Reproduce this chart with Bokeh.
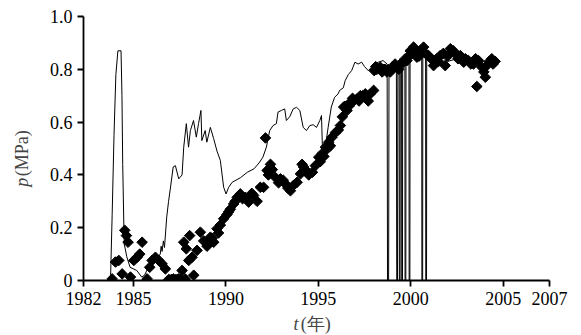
import math
from bokeh.plotting import figure
from bokeh.models import Range1d, FixedTicker, Label
from bokeh.embed import file_html
from bokeh.resources import INLINE

# ---- data ----
line_t = [1983.76, 1983.85, 1983.95, 1984.05, 1984.16, 1984.33, 1984.38, 1984.42, 1984.50, 1984.64,
          1984.82, 1985.18, 1985.45, 1985.60, 1985.90, 1986.20, 1986.45, 1986.50, 1986.55, 1986.62,
          1986.68, 1986.80, 1986.90, 1987.00, 1987.15, 1987.27, 1987.45, 1987.63, 1987.72, 1987.86,
          1987.98, 1988.08, 1988.25, 1988.40, 1988.52, 1988.65, 1988.70, 1988.88, 1988.97, 1989.16,
          1989.34, 1989.52, 1989.70, 1989.88, 1990.01, 1990.15, 1990.34, 1990.80, 1991.16, 1991.52,
          1991.79, 1992.00, 1992.19, 1992.37, 1992.55, 1992.73, 1992.82, 1993.00, 1993.18, 1993.27,
          1993.45, 1993.64, 1993.82, 1994.00, 1994.18, 1994.36, 1994.54, 1994.72, 1994.90, 1995.08,
          1995.17, 1995.22, 1995.35, 1995.53, 1995.70, 1995.88, 1996.07, 1996.15, 1996.35, 1996.45,
          1996.62, 1996.80, 1996.98, 1997.15, 1997.34, 1997.50, 1997.70, 1997.88, 1998.05, 1998.24,
          1998.50, 1998.72, 1998.74, 1998.80, 1998.82, 1999.00, 1999.22, 1999.24, 1999.28, 1999.30,
          1999.37, 1999.38, 1999.42, 1999.43, 1999.50, 1999.51, 1999.55, 1999.56, 1999.68, 1999.69,
          1999.73, 1999.74, 1999.90, 1999.91, 1999.95, 1999.96, 2000.20, 2000.40, 2000.59, 2000.60,
          2000.64, 2000.65, 2000.80, 2000.81, 2000.85, 2000.86, 2001.20, 2001.60, 2002.00, 2002.50,
          2003.00, 2003.50, 2004.00, 2004.40, 2004.70]
line_p = [0.0, 0.25, 0.55, 0.78, 0.87, 0.87, 0.70, 0.44, 0.14, 0.09,
          0.05, 0.038, 0.013, 0.02, 0.064, 0.08, 0.10, 0.13, 0.11, 0.15,
          0.125, 0.24, 0.30, 0.35, 0.43, 0.435, 0.385, 0.40, 0.505, 0.594,
          0.505, 0.568, 0.606, 0.543, 0.594, 0.644, 0.53, 0.568, 0.524, 0.58,
          0.537, 0.49, 0.455, 0.353, 0.328, 0.353, 0.372, 0.39, 0.41, 0.423,
          0.445, 0.467, 0.505, 0.568, 0.587, 0.594, 0.638, 0.644, 0.65, 0.606,
          0.62, 0.65, 0.656, 0.644, 0.58, 0.568, 0.587, 0.59, 0.58, 0.606,
          0.625, 0.505, 0.492, 0.58, 0.657, 0.694, 0.707, 0.72, 0.73, 0.757,
          0.78, 0.795, 0.827, 0.82, 0.827, 0.81, 0.795, 0.808, 0.82, 0.827,
          0.833, 0.82, 0.0, 0.0, 0.81, 0.83, 0.82, 0.0, 0.0, 0.82,
          0.82, 0.0, 0.0, 0.83, 0.84, 0.0, 0.0, 0.84, 0.84, 0.0,
          0.0, 0.84, 0.85, 0.0, 0.0, 0.85, 0.86, 0.85, 0.85, 0.0,
          0.0, 0.85, 0.84, 0.0, 0.0, 0.84, 0.84, 0.85, 0.83, 0.84,
          0.83, 0.82, 0.83, 0.81, 0.82]

pt_t = [1983.85, 1984.03, 1984.21, 1984.39, 1984.53, 1984.62, 1984.71, 1984.84, 1985.02, 1985.20,
        1985.34, 1985.47, 1985.74, 1985.88, 1986.01, 1986.19, 1986.37, 1986.55, 1986.73, 1986.91,
        1987.05, 1987.16, 1987.30, 1987.43, 1987.55, 1987.63, 1987.72, 1987.80, 1987.86, 1987.99,
        1988.04, 1988.17, 1988.26, 1988.44, 1988.62, 1988.80, 1988.98, 1989.16, 1989.34, 1989.52,
        1989.70, 1989.88, 1990.06, 1990.24, 1990.42, 1990.61, 1990.78, 1991.05, 1991.23, 1991.50,
        1991.69, 1991.86, 1992.04, 1992.14, 1992.23, 1992.41, 1992.51, 1992.68, 1992.95, 1993.22,
        1993.49, 1993.65, 1993.85, 1994.03, 1994.12, 1994.30, 1994.48, 1994.68, 1994.84, 1995.02,
        1995.20, 1995.38, 1995.56, 1995.74, 1995.92, 1996.08, 1996.19, 1996.37, 1996.55, 1996.73,
        1996.91, 1997.09, 1997.27, 1997.54, 1997.70, 1997.81, 1997.99, 1998.02, 1998.17, 1998.35,
        1998.53, 1998.71, 1998.89, 1999.07, 1999.25, 1999.43, 1999.61, 1999.79, 1999.97, 2000.15,
        2000.33, 2000.51, 2000.69, 2000.96, 2001.23, 2001.40, 2001.59, 2001.86, 2002.14, 2002.41,
        2002.68, 2002.86, 2003.12, 2003.39, 2003.57, 2003.66, 2003.84, 2004.03, 2004.11, 2004.38,
        2004.56,
        # extra points filling the dense bands
        1989.0, 1989.25, 1989.6, 1990.15, 1990.5, 1990.9, 1991.4, 1992.3, 1992.85, 1993.1,
        1993.35, 1994.2, 1994.4, 1995.1, 1995.3, 1995.5, 1995.65, 1996.3, 1996.45, 1996.65,
        1996.85, 1997.2, 1997.4, 1998.1, 1998.45, 1998.6, 1998.8, 1999.15, 1999.35, 1999.7,
        1999.9, 2000.05, 2000.25, 2000.45, 2000.8, 2001.1, 2001.5, 2001.75, 2002.0, 2002.3,
        2002.55, 2002.95, 2003.25, 2003.5, 2003.95, 2004.25, 2004.45]
pt_p = [0.006, 0.07, 0.076, 0.025, 0.19, 0.17, 0.145, 0.013, 0.076, 0.088,
        0.10, 0.145, 0.006, 0.05, 0.076, 0.088, 0.076, 0.063, 0.044, 0.004,
        0.004, 0.006, 0.004, 0.006, 0.004, 0.038, 0.145, 0.006, 0.12, 0.076,
        0.17, 0.088, 0.02, 0.114, 0.183, 0.15, 0.13, 0.164, 0.145, 0.196,
        0.21, 0.234, 0.25, 0.27, 0.29, 0.315, 0.328, 0.315, 0.297, 0.322,
        0.30, 0.353, 0.353, 0.54, 0.417, 0.44, 0.42, 0.39, 0.385, 0.366,
        0.34, 0.36, 0.372, 0.404, 0.44, 0.42, 0.40, 0.41, 0.435, 0.467,
        0.48, 0.505, 0.524, 0.543, 0.56, 0.57, 0.587, 0.657, 0.644, 0.675,
        0.68, 0.688, 0.70, 0.707, 0.68, 0.707, 0.72, 0.795, 0.80, 0.808,
        0.80, 0.79, 0.79, 0.808, 0.81, 0.82, 0.827, 0.833, 0.87, 0.884,
        0.846, 0.87, 0.884, 0.852, 0.814, 0.84, 0.852, 0.814, 0.878, 0.859,
        0.852, 0.827, 0.833, 0.82, 0.735, 0.833, 0.808, 0.77, 0.814, 0.84,
        0.83,
        0.14, 0.16, 0.18, 0.26, 0.30, 0.31, 0.33, 0.40, 0.37, 0.38,
        0.35, 0.43, 0.41, 0.45, 0.47, 0.50, 0.51, 0.62, 0.66, 0.66,
        0.69, 0.68, 0.70, 0.81, 0.79, 0.80, 0.80, 0.82, 0.80, 0.84,
        0.85, 0.86, 0.87, 0.85, 0.86, 0.84, 0.83, 0.86, 0.85, 0.87,
        0.84, 0.84, 0.82, 0.84, 0.79, 0.83, 0.82]

x_ticks = [1982.3, 1985, 1990, 1995, 2000, 2005, 2007.5]
x_tick_labels = ["1982", "1985", "1990", "1995", "2000", "2005", "2007"]
y_ticks = [0, 0.2, 0.4, 0.6, 0.8, 1.0]
y_tick_labels = ["0", "0.2", "0.4", "0.6", "0.8", "1.0"]

FONT = "Liberation Serif"

p = figure(width=581, height=335, output_backend="svg", toolbar_location=None,
           x_range=Range1d(1982.3, 2007.5), y_range=Range1d(0, 1.0),
           min_border_left=83, min_border_right=32, min_border_top=16, min_border_bottom=55)
p.outline_line_color = None
p.grid.visible = False
p.background_fill_color = "white"

p.scatter(pt_t, pt_p, marker="square", angle=math.pi / 4, size=7.5,
          fill_color="black", line_color="black")
p.line(line_t, line_p, line_color="black", line_width=1)

for ax, ticks, labels in ((p.xaxis[0], x_ticks, x_tick_labels), (p.yaxis[0], y_ticks, y_tick_labels)):
    ax.ticker = FixedTicker(ticks=ticks)
    ax.major_label_overrides = {t: l for t, l in zip(ticks, labels)}
    ax.minor_tick_line_color = None
    ax.axis_line_width = 1.8
    ax.major_tick_line_width = 1.8
    ax.major_tick_out = 6
    ax.major_tick_in = 0
    ax.axis_line_color = "black"
    ax.major_tick_line_color = "black"
    ax.major_label_text_font = FONT
    ax.major_label_text_font_size = "18px"
    ax.major_label_text_color = "black"

# axis titles (italic variable + normal unit), placed in side panels so they are not clipped
p.add_layout(Label(x=1993.65, y=-0.165, text="t", text_font=FONT, text_font_style="italic",
                   text_font_size="18px", text_align="left", text_baseline="middle"), "below")
p.add_layout(Label(x=1994.05, y=-0.165, text="(年)", text_font=FONT,
                   text_font_size="18px", text_align="left", text_baseline="middle"), "right")
p.add_layout(Label(x=1979.0, y=0.355, text="p", text_font=FONT, text_font_style="italic",
                   text_font_size="18px", text_align="left", text_baseline="middle", angle=math.pi / 2), "left")
p.add_layout(Label(x=1979.0, y=0.395, text="(MPa)", text_font=FONT,
                   text_font_size="18px", text_align="left", text_baseline="middle", angle=math.pi / 2), "left")

open("out.html", "w").write(file_html(p, INLINE))
